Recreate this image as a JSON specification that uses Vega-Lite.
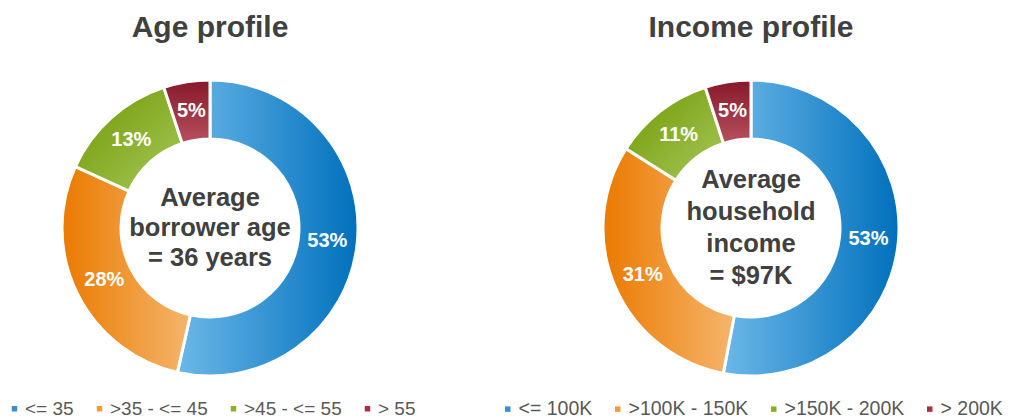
{
  "$schema": "https://vega.github.io/schema/vega-lite/v6.json",
  "padding": {"top": 13, "left": 0, "right": 0, "bottom": 0},
  "background": "white",
  "spacing": 121,
  "bounds": "flush",
  "config": {
    "view": {"stroke": null},
    "font": "Liberation Sans",
    "title": {"fontSize": 30, "font": "Liberation Sans", "fontWeight": "bold", "color": "#404040", "anchor": "middle", "offset": 7},
    "legend": {"labelFont": "Liberation Sans", "labelFontSize": 19, "labelColor": "#595959", "symbolType": "square", "symbolSize": 30, "symbolStrokeWidth": 0, "columnPadding": 16, "labelOffset": 1, "padding": 0, "direction": "horizontal", "orient": "none"}
  },
  "resolve": {"scale": {"color": "independent", "theta": "independent"}, "legend": {"color": "independent"}},
  "hconcat": [
    {
      "title": "Age profile",
      "width": 420,
      "height": 356,
      "data": {"values": [
        {"cat": "<= 35", "pct": 0.53, "k": 1},
        {"cat": ">35 - <= 45", "pct": 0.28, "k": 2},
        {"cat": ">45 - <= 55", "pct": 0.13, "k": 3},
        {"cat": "> 55", "pct": 0.05, "k": 4}
      ]},
      "layer": [
        {
          "mark": {"type": "arc", "outerRadius": 148, "innerRadius": 89},
          "encoding": {
            "theta": {"field": "pct", "type": "quantitative", "stack": true},
            "order": {"field": "k", "type": "quantitative"},
            "color": {"field": "cat", "type": "nominal",
              "scale": {"domain": ["<= 35", ">35 - <= 45", ">45 - <= 55", "> 55"], "range": ["#3a8fd0", "#f39a3a", "#8ab02a", "#a83040"]},
              "legend": {"title": null, "legendX": 5, "legendY": 349}}
          }
        },
        {
          "mark": {"type": "arc", "outerRadius": 148, "innerRadius": 89, "stroke": "white", "strokeWidth": 3},
          "encoding": {
            "theta": {"field": "pct", "type": "quantitative", "stack": true},
            "order": {"field": "k", "type": "quantitative"},
            "detail": {"field": "cat"},
            "fill": {
              "condition": [
                {"test": "datum.k == 1", "value": {"gradient": "linear", "x1": 0, "y1": 0, "x2": 1, "y2": 0, "stops": [{"offset": 0, "color": "#6cb8e8"}, {"offset": 1, "color": "#0070bc"}]}},
                {"test": "datum.k == 2", "value": {"gradient": "linear", "x1": 0, "y1": 0, "x2": 1, "y2": 0, "stops": [{"offset": 0, "color": "#eb7a00"}, {"offset": 1, "color": "#f5b56c"}]}},
                {"test": "datum.k == 3", "value": {"gradient": "linear", "x1": 0, "y1": 0, "x2": 1, "y2": 1, "stops": [{"offset": 0, "color": "#6e9800"}, {"offset": 1, "color": "#a8c85c"}]}}
              ],
              "value": {"gradient": "linear", "x1": 0, "y1": 0, "x2": 0, "y2": 1, "stops": [{"offset": 0, "color": "#86182a"}, {"offset": 1, "color": "#b6505f"}]}
            }
          }
        },
        {
          "mark": {"type": "text", "radius": 118, "fontSize": 20, "fontWeight": "bold", "color": "white"},
          "encoding": {
            "theta": {"field": "pct", "type": "quantitative", "stack": true},
            "order": {"field": "k", "type": "quantitative"},
            "detail": {"field": "cat"},
            "text": {"field": "pct", "type": "quantitative", "format": ".0%"}
          }
        },
        {
          "data": {"values": [{"t": "Average\nborrower age\n= 36 years"}]},
          "mark": {"type": "text", "lineBreak": "\n", "fontSize": 25.5, "fontWeight": "bold", "color": "#404040", "lineHeight": 30, "dy": -30},
          "encoding": {"text": {"field": "t"}}
        }
      ]
    },
    {
      "title": "Income profile",
      "width": 420,
      "height": 356,
      "data": {"values": [
        {"cat": "<= 100K", "pct": 0.53, "k": 1},
        {"cat": ">100K - 150K", "pct": 0.31, "k": 2},
        {"cat": ">150K - 200K", "pct": 0.11, "k": 3},
        {"cat": "> 200K", "pct": 0.05, "k": 4}
      ]},
      "layer": [
        {
          "mark": {"type": "arc", "outerRadius": 148, "innerRadius": 89},
          "encoding": {
            "theta": {"field": "pct", "type": "quantitative", "stack": true},
            "order": {"field": "k", "type": "quantitative"},
            "color": {"field": "cat", "type": "nominal",
              "scale": {"domain": ["<= 100K", ">100K - 150K", ">150K - 200K", "> 200K"], "range": ["#3a8fd0", "#f39a3a", "#8ab02a", "#a83040"]},
              "legend": {"title": null, "legendX": -43, "legendY": 349, "labelFontSize": 19.5, "columnPadding": 15}}
          }
        },
        {
          "mark": {"type": "arc", "outerRadius": 148, "innerRadius": 89, "stroke": "white", "strokeWidth": 3},
          "encoding": {
            "theta": {"field": "pct", "type": "quantitative", "stack": true},
            "order": {"field": "k", "type": "quantitative"},
            "detail": {"field": "cat"},
            "fill": {
              "condition": [
                {"test": "datum.k == 1", "value": {"gradient": "linear", "x1": 0, "y1": 0, "x2": 1, "y2": 0, "stops": [{"offset": 0, "color": "#6cb8e8"}, {"offset": 1, "color": "#0070bc"}]}},
                {"test": "datum.k == 2", "value": {"gradient": "linear", "x1": 0, "y1": 0, "x2": 1, "y2": 0, "stops": [{"offset": 0, "color": "#eb7a00"}, {"offset": 1, "color": "#f5b56c"}]}},
                {"test": "datum.k == 3", "value": {"gradient": "linear", "x1": 0, "y1": 0, "x2": 1, "y2": 1, "stops": [{"offset": 0, "color": "#6e9800"}, {"offset": 1, "color": "#a8c85c"}]}}
              ],
              "value": {"gradient": "linear", "x1": 0, "y1": 0, "x2": 0, "y2": 1, "stops": [{"offset": 0, "color": "#86182a"}, {"offset": 1, "color": "#b6505f"}]}
            }
          }
        },
        {
          "mark": {"type": "text", "radius": 118, "fontSize": 20, "fontWeight": "bold", "color": "white"},
          "encoding": {
            "theta": {"field": "pct", "type": "quantitative", "stack": true},
            "order": {"field": "k", "type": "quantitative"},
            "detail": {"field": "cat"},
            "text": {"field": "pct", "type": "quantitative", "format": ".0%"}
          }
        },
        {
          "data": {"values": [{"t": "Average\nhousehold\nincome\n= $97K"}]},
          "mark": {"type": "text", "lineBreak": "\n", "fontSize": 25.5, "fontWeight": "bold", "color": "#404040", "lineHeight": 32, "dy": -48},
          "encoding": {"text": {"field": "t"}}
        }
      ]
    }
  ]
}
